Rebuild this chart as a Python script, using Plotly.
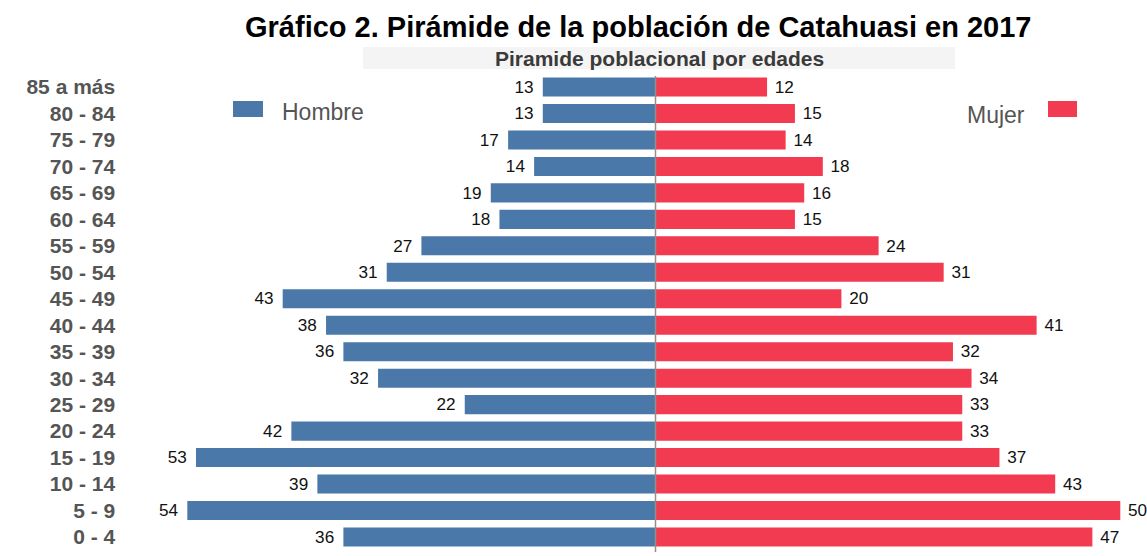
import plotly.graph_objects as go

W, H = 1147, 556

age_groups = ["0 - 4", "5 - 9", "10 - 14", "15 - 19", "20 - 24", "25 - 29", "30 - 34",
              "35 - 39", "40 - 44", "45 - 49", "50 - 54", "55 - 59", "60 - 64",
              "65 - 69", "70 - 74", "75 - 79", "80 - 84", "85 a más"]
hombre = [36, 54, 39, 53, 42, 22, 32, 36, 38, 43, 31, 27, 18, 19, 14, 17, 13, 13]
mujer = [47, 50, 43, 37, 33, 33, 34, 32, 41, 20, 31, 24, 15, 16, 18, 14, 15, 12]

title_text = "Gráfico 2. Pirámide de la población de Catahuasi en 2017"
subtitle_text = "Piramide poblacional por edades"

BLUE = "#4a78a9"
RED = "#f23a50"

def px(x):
    return x / W

def py(y):
    return 1 - y / H

center = px(655.5)

fig = go.Figure()
fig.add_trace(go.Bar(
    y=age_groups, x=[-v for v in hombre], orientation="h",
    marker=dict(color=BLUE, line=dict(width=0)),
    text=[f"{v}\u00a0\u200a" for v in hombre], textposition="outside",
    textfont=dict(family="Liberation Sans, Arial", size=18, color="#111"),
    cliponaxis=False, xaxis="x", yaxis="y", name="Hombre", hoverinfo="skip",
))
fig.add_trace(go.Bar(
    y=age_groups, x=mujer, orientation="h",
    marker=dict(color=RED, line=dict(width=0)),
    text=[f"\u00a0{v}" for v in mujer], textposition="outside",
    textfont=dict(family="Liberation Sans, Arial", size=18, color="#111"),
    cliponaxis=False, xaxis="x2", yaxis="y", name="Mujer", hoverinfo="skip",
))

fig.update_layout(
    width=W, height=H,
    margin=dict(l=0, r=0, t=0, b=0),
    paper_bgcolor="white", plot_bgcolor="rgba(0,0,0,0)",
    showlegend=False, bargap=0.28,
    xaxis=dict(domain=[px(126.2), center], range=[-61.05, 0], visible=False, fixedrange=True),
    xaxis2=dict(domain=[center, px(1124)], range=[0, 50.4], visible=False, anchor="y", fixedrange=True),
    yaxis=dict(domain=[py(550.2), py(73.8)], categoryorder="array", categoryarray=age_groups,
               range=[-0.5, 17.5], anchor="x", showgrid=False, zeroline=False, showline=False,
               ticks="", ticklabelstandoff=10,
               tickfont=dict(family="Liberation Sans, Arial", size=21, color="#555555", weight="bold"),
               fixedrange=True),
    font=dict(family="Liberation Sans, Arial"),
)

# subtitle band
fig.add_shape(type="rect", xref="paper", yref="paper", x0=px(363), x1=px(955), y0=py(69), y1=py(47),
              fillcolor="#f4f4f4", line=dict(width=0), layer="below")
# center line
fig.add_shape(type="line", xref="paper", yref="paper", x0=center, x1=center, y0=py(552), y1=py(76),
              line=dict(color="#909090", width=1.5))
# legend squares
fig.add_shape(type="rect", xref="paper", yref="paper", x0=px(233), x1=px(263), y0=py(117), y1=py(101),
              fillcolor=BLUE, line=dict(width=0))
fig.add_shape(type="rect", xref="paper", yref="paper", x0=px(1048), x1=px(1077), y0=py(117), y1=py(101),
              fillcolor=RED, line=dict(width=0))

fig.add_annotation(text=f"<b>{title_text}</b>", xref="paper", yref="paper", x=px(638), y=py(27),
                   showarrow=False, xanchor="center", yanchor="middle",
                   font=dict(family="Liberation Sans, Arial", size=29, color="#000"))
fig.add_annotation(text=f"<b>{subtitle_text}</b>", xref="paper", yref="paper", x=px(659), y=py(58),
                   showarrow=False, xanchor="center", yanchor="middle",
                   font=dict(family="Liberation Sans, Arial", size=21, color="#3a3a3a"))
fig.add_annotation(text="Hombre", xref="paper", yref="paper", x=px(280), y=py(112),
                   showarrow=False, xanchor="left", yanchor="middle",
                   font=dict(family="Liberation Sans, Arial", size=23, color="#555555"))
fig.add_annotation(text="Mujer", xref="paper", yref="paper", x=px(1027), y=py(115),
                   showarrow=False, xanchor="right", yanchor="middle",
                   font=dict(family="Liberation Sans, Arial", size=23, color="#555555"))

fig.write_html("out.html", config={"displayModeBar": False},
               post_script="document.body.style.margin='0';")
